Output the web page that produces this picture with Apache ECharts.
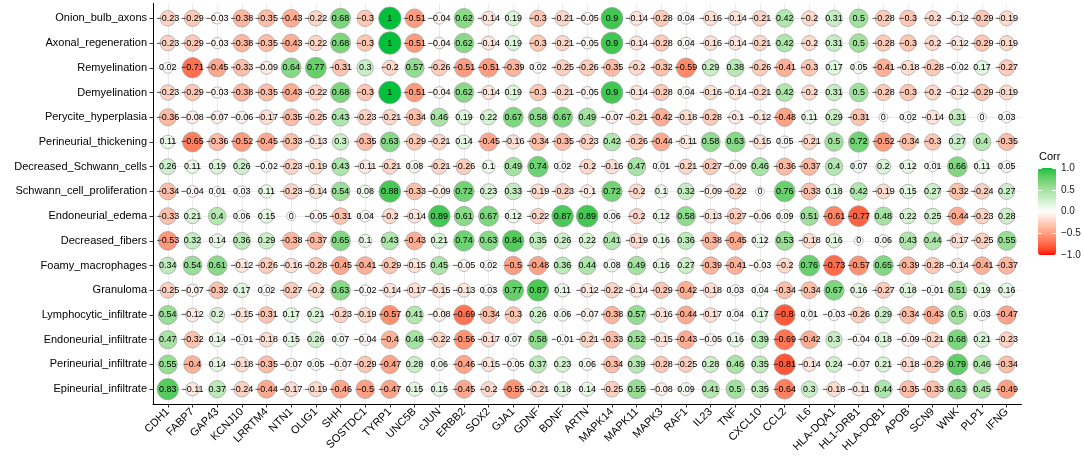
<!DOCTYPE html>
<html>
<head>
<meta charset="utf-8">
<script src="https://cdn.jsdelivr.net/npm/echarts@6/dist/echarts.min.js"></script>
<style>
  body { margin: 0; background: #fff; }
  #main { width: 1084px; height: 462px; }
</style>
</head>
<body>
<div id="main"></div>
<script>
const genes = ['CDH1', 'FABP7', 'GAP43', 'KCNJ10', 'LRRTM4', 'NTN1', 'OLIG1', 'SHH', 'SOSTDC1', 'TYRP1',
    'UNC5B', 'cJUN', 'ERBB2', 'SOX2', 'GJA1', 'GDNF', 'BDNF', 'ARTN', 'MAPK14', 'MAPK11', 'MAPK3', 'RAF1',
    'IL23', 'TNF', 'CXCL10', 'CCL2', 'IL6', 'HLA-DQA1', 'HL1-DRB1', 'HLA-DQB1', 'APOB', 'SCN9', 'WNK', 'PLP1', 'IFNG'];

const features = ['Onion_bulb_axons', 'Axonal_regeneration', 'Remyelination', 'Demyelination',
    'Perycite_hyperplasia', 'Perineurial_thickening', 'Decreased_Schwann_cells', 'Schwann_cell_proliferation',
    'Endoneurial_edema', 'Decreased_fibers', 'Foamy_macrophages', 'Granuloma', 'Lymphocytic_infiltrate',
    'Endoneurial_infiltrate', 'Perineurial_infiltrate', 'Epineurial_infiltrate'];

const onionBulbAxons = [-0.23, -0.29, -0.03, -0.38, -0.35, -0.43, -0.22, 0.68, -0.3, 1, -0.51, -0.04, 0.62, -0.14, 0.19, -0.3, -0.21, -0.05, 0.9, -0.14, -0.28, 0.04, -0.16, -0.14, -0.21, 0.42, -0.2, 0.31, 0.5, -0.28, -0.3, -0.2, -0.12, -0.29, -0.19];
const axonalRegeneration = [-0.23, -0.29, -0.03, -0.38, -0.35, -0.43, -0.22, 0.68, -0.3, 1, -0.51, -0.04, 0.62, -0.14, 0.19, -0.3, -0.21, -0.05, 0.9, -0.14, -0.28, 0.04, -0.16, -0.14, -0.21, 0.42, -0.2, 0.31, 0.5, -0.28, -0.3, -0.2, -0.12, -0.29, -0.19];
const remyelination = [0.02, -0.71, -0.45, -0.33, -0.09, 0.64, 0.77, -0.31, 0.3, -0.2, 0.57, -0.26, -0.51, -0.51, -0.39, 0.02, -0.25, -0.26, -0.35, -0.2, -0.32, -0.59, 0.29, 0.38, -0.26, -0.41, -0.3, 0.17, 0.05, -0.41, -0.18, -0.28, -0.02, 0.17, -0.27];
const demyelination = [-0.23, -0.29, -0.03, -0.38, -0.35, -0.43, -0.22, 0.68, -0.3, 1, -0.51, -0.04, 0.62, -0.14, 0.19, -0.3, -0.21, -0.05, 0.9, -0.14, -0.28, 0.04, -0.16, -0.14, -0.21, 0.42, -0.2, 0.31, 0.5, -0.28, -0.3, -0.2, -0.12, -0.29, -0.19];
const peryciteHyperplasia = [-0.36, -0.08, -0.07, -0.06, -0.17, -0.35, -0.25, 0.43, -0.23, -0.21, -0.34, 0.46, 0.19, 0.22, 0.67, 0.58, 0.67, 0.49, -0.07, -0.21, -0.42, -0.18, -0.28, -0.1, -0.12, -0.48, 0.11, 0.29, -0.31, 0, 0.02, -0.14, 0.31, 0, 0.03];
const perineurialThickening = [0.11, -0.65, -0.36, -0.52, -0.45, -0.33, -0.13, 0.3, -0.35, 0.63, -0.29, -0.21, 0.14, -0.45, -0.16, -0.34, -0.35, -0.23, 0.42, -0.26, -0.44, -0.11, 0.58, 0.63, -0.15, 0.05, -0.21, 0.5, 0.72, -0.52, -0.34, -0.3, 0.27, 0.4, -0.35];
const decreasedSchwannCells = [0.26, 0.11, 0.19, 0.26, -0.02, -0.23, -0.19, 0.43, -0.11, -0.21, 0.08, -0.21, -0.26, 0.1, 0.49, 0.74, 0.02, -0.2, -0.16, 0.47, 0.01, -0.21, -0.27, -0.09, 0.46, -0.36, -0.37, 0.4, 0.07, 0.2, 0.12, 0.01, 0.66, 0.11, 0.05];
const schwannCellProliferation = [-0.34, -0.04, 0.01, 0.03, 0.11, -0.23, -0.14, 0.54, 0.08, 0.88, -0.33, -0.09, 0.72, 0.23, 0.33, -0.19, -0.23, -0.1, 0.72, -0.2, 0.1, 0.32, -0.09, -0.22, 0, 0.76, -0.33, 0.18, 0.42, -0.19, 0.15, 0.27, -0.32, -0.24, 0.27];
const endoneurialEdema = [-0.33, 0.21, 0.4, 0.06, 0.15, 0, -0.05, -0.31, 0.04, -0.2, -0.14, 0.89, 0.61, 0.67, 0.12, -0.22, 0.87, 0.89, 0.06, -0.2, 0.12, 0.58, -0.13, -0.27, -0.06, 0.09, 0.51, -0.61, -0.77, 0.48, 0.22, 0.25, -0.44, -0.23, 0.28];
const decreasedFibers = [-0.53, 0.32, 0.14, 0.36, 0.29, -0.38, -0.37, 0.65, 0.1, 0.43, -0.43, 0.21, 0.74, 0.63, 0.84, 0.35, 0.26, 0.22, 0.41, -0.19, 0.16, 0.36, -0.38, -0.45, 0.12, 0.53, -0.18, 0.16, 0, 0.06, 0.43, 0.44, -0.17, -0.25, 0.55];
const foamyMacrophages = [0.34, 0.54, 0.61, -0.12, -0.26, -0.16, -0.28, -0.45, -0.41, -0.29, -0.15, 0.45, -0.05, 0.02, -0.5, -0.48, 0.36, 0.44, 0.08, 0.49, 0.16, 0.27, -0.39, -0.41, -0.03, -0.2, 0.76, -0.73, -0.57, 0.65, -0.39, -0.28, -0.14, -0.41, -0.37];
const granuloma = [-0.25, -0.07, -0.32, 0.17, 0.02, -0.27, -0.2, 0.63, -0.02, -0.14, -0.17, -0.15, -0.13, 0.03, 0.77, 0.87, 0.11, -0.12, -0.22, -0.14, -0.29, -0.42, -0.18, 0.03, 0.04, -0.34, -0.34, 0.67, 0.16, -0.27, 0.18, -0.01, 0.51, 0.19, 0.16];
const lymphocyticInfiltrate = [0.54, -0.12, 0.2, -0.15, -0.31, 0.17, 0.21, -0.23, -0.19, -0.57, 0.41, -0.08, -0.69, -0.34, -0.3, 0.26, 0.06, -0.07, -0.38, 0.57, -0.16, -0.44, -0.17, 0.04, 0.17, -0.8, 0.01, -0.03, -0.26, 0.29, -0.34, -0.43, 0.5, 0.03, -0.47];
const endoneurialInfiltrate = [0.47, -0.32, 0.14, -0.01, -0.18, 0.15, 0.26, 0.07, -0.04, -0.4, 0.48, -0.22, -0.56, -0.17, 0.07, 0.58, -0.01, -0.21, -0.33, 0.52, -0.15, -0.43, -0.05, 0.16, 0.39, -0.69, -0.42, 0.3, -0.04, 0.18, -0.09, -0.21, 0.68, 0.21, -0.23];
const perineurialInfiltrate = [0.55, -0.4, 0.14, -0.18, -0.35, -0.07, 0.05, -0.07, -0.29, -0.47, 0.28, 0.06, -0.46, -0.15, -0.05, 0.37, 0.23, 0.06, -0.34, 0.39, -0.28, -0.25, 0.28, 0.46, 0.35, -0.81, -0.14, 0.24, -0.07, 0.21, -0.18, -0.29, 0.79, 0.46, -0.34];
const epineurialInfiltrate = [0.83, -0.11, 0.37, -0.24, -0.44, -0.17, -0.19, -0.46, -0.5, -0.47, 0.15, 0.15, -0.45, -0.2, -0.55, -0.21, 0.18, 0.14, -0.25, 0.55, -0.08, 0.09, 0.41, 0.5, 0.35, -0.64, 0.3, -0.18, -0.11, 0.44, -0.35, -0.33, 0.63, 0.45, -0.49];

const corrRows = [onionBulbAxons, axonalRegeneration, remyelination, demyelination, peryciteHyperplasia,
    perineurialThickening, decreasedSchwannCells, schwannCellProliferation, endoneurialEdema, decreasedFibers,
    foamyMacrophages, granuloma, lymphocyticInfiltrate, endoneurialInfiltrate, perineurialInfiltrate,
    epineurialInfiltrate];

const legendTicks = [-1, -0.5, 0, 0.5, 1];

// red - white - green, interpolated in Lab like ggplot's gradient2
const toLin = c => { c /= 255; return c <= 0.04045 ? c / 12.92 : Math.pow((c + 0.055) / 1.055, 2.4); };
const fromLin = c => { const v = c <= 0.0031308 ? 12.92 * c : 1.055 * Math.pow(c, 1 / 2.4) - 0.055; return Math.round(Math.min(1, Math.max(0, v)) * 255); };
const f = t => t > 0.008856 ? Math.cbrt(t) : 7.787 * t + 16 / 116;
const finv = t => t * t * t > 0.008856 ? t * t * t : (t - 16 / 116) / 7.787;

function hexToLab(hex) {
    const r = toLin(parseInt(hex.substr(1, 2), 16));
    const g = toLin(parseInt(hex.substr(3, 2), 16));
    const b = toLin(parseInt(hex.substr(5, 2), 16));
    const X = (0.4124 * r + 0.3576 * g + 0.1805 * b) / 0.95047;
    const Y = 0.2126 * r + 0.7152 * g + 0.0722 * b;
    const Z = (0.0193 * r + 0.1192 * g + 0.9505 * b) / 1.08883;
    return [116 * f(Y) - 16, 500 * (f(X) - f(Y)), 200 * (f(Y) - f(Z))];
}

function labToHex(lab) {
    const fy = (lab[0] + 16) / 116, fx = fy + lab[1] / 500, fz = fy - lab[2] / 200;
    const X = 0.95047 * finv(fx), Y = finv(fy), Z = 1.08883 * finv(fz);
    const r = fromLin(3.2406 * X - 1.5372 * Y - 0.4986 * Z);
    const g = fromLin(-0.9689 * X + 1.8758 * Y + 0.0415 * Z);
    const b = fromLin(0.0557 * X - 0.2040 * Y + 1.0570 * Z);
    return '#' + [r, g, b].map(v => v.toString(16).padStart(2, '0')).join('');
}

const lowLab = hexToLab('#ff0000'), midLab = hexToLab('#ffffff'), highLab = hexToLab('#00c03c');
const colorStops = [];
for (let k = 0; k <= 40; k++) {
    const t = -1 + k / 20;
    const from = t < 0 ? lowLab : midLab, to = t < 0 ? midLab : highLab;
    const s = t < 0 ? t + 1 : t;
    colorStops.push(labToHex(from.map((v, i) => v + (to[i] - v) * s)));
}

const points = [];
corrRows.forEach((row, i) => {
    row.forEach((v, j) => points.push([j, i, v]));
});

const fmt = v => String(v).replace('-', '\u2212');
const font = 'Liberation Sans, Arial, sans-serif';

const chart = echarts.init(document.getElementById('main'));

chart.setOption({
    animation: false,
    textStyle: { fontFamily: font },
    title: {
        text: 'Corr',
        left: 1039,
        top: 151,
        padding: 0,
        textStyle: { fontSize: 11, fontWeight: 'normal', color: '#000', fontFamily: font }
    },
    grid: [
        { left: 153, right: 62.5, top: 3.5, bottom: 58 },
        { left: 1038, top: 168, width: 18, height: 87 }
    ],
    xAxis: [
        {
            type: 'value',
            min: -0.6,
            max: genes.length - 0.4,
            axisLine: { onZero: false, lineStyle: { color: '#000', width: 1 } },
            axisTick: { length: 3.5, lineStyle: { color: '#333' }, customValues: genes.map((g, i) => i) },
            axisLabel: {
                customValues: genes.map((g, i) => i),
                formatter: v => genes[Math.round(v)],
                rotate: 45,
                margin: 6,
                fontSize: 11,
                color: '#000',
                fontFamily: font
            },
            splitLine: { show: true, lineStyle: { color: '#ececec', width: 1 } }
        },
        { gridIndex: 1, type: 'value', min: 0, max: 1, show: false }
    ],
    yAxis: [
        {
            type: 'value',
            min: -0.6,
            max: features.length - 0.4,
            inverse: true,
            axisLine: { show: true, onZero: false, lineStyle: { color: '#000', width: 1 } },
            axisTick: { show: true, length: 3.5, lineStyle: { color: '#333' }, customValues: features.map((g, i) => i) },
            axisLabel: {
                customValues: features.map((g, i) => i),
                formatter: v => features[Math.round(v)],
                margin: 6,
                fontSize: 11,
                color: '#000',
                fontFamily: font
            },
            splitLine: { show: true, lineStyle: { color: '#ececec', width: 1 } }
        },
        {
            gridIndex: 1,
            type: 'value',
            min: -1,
            max: 1,
            interval: 0.5,
            position: 'right',
            z: 10,
            axisLine: { show: false, onZero: false },
            axisTick: { show: true, inside: true, length: 4, lineStyle: { color: '#fff', width: 1 }, customValues: legendTicks },
            axisLabel: {
                customValues: legendTicks,
                formatter: v => fmt(v.toFixed(1)),
                margin: 5,
                fontSize: 10,
                color: '#1a1a1a',
                fontFamily: font
            },
            splitLine: { show: false }
        },
        {
            gridIndex: 1,
            type: 'value',
            min: -1,
            max: 1,
            position: 'left',
            z: 10,
            axisLine: { show: false, onZero: false },
            axisTick: { show: true, inside: true, length: 4, lineStyle: { color: '#fff', width: 1 }, customValues: legendTicks },
            axisLabel: { show: false },
            splitLine: { show: false }
        }
    ],
    visualMap: {
        type: 'continuous',
        min: -1,
        max: 1,
        dimension: 2,
        seriesIndex: 0,
        calculable: false,
        hoverLink: false,
        left: 1038,
        top: 168,
        itemWidth: 18,
        itemHeight: 87,
        padding: 0,
        inRange: { color: colorStops }
    },
    series: [
        {
            type: 'scatter',
            data: points,
            symbolSize: val => 9 + 13.5 * Math.sqrt(Math.abs(val[2])),
            itemStyle: { borderColor: '#9e9e9e', borderWidth: 0.7, opacity: 1 },
            label: {
                show: true,
                position: 'inside',
                formatter: p => fmt(p.value[2]),
                fontSize: 9,
                color: '#000',
                fontFamily: font
            },
            emphasis: { disabled: true }
        }
    ]
});
</script>
</body>
</html>
